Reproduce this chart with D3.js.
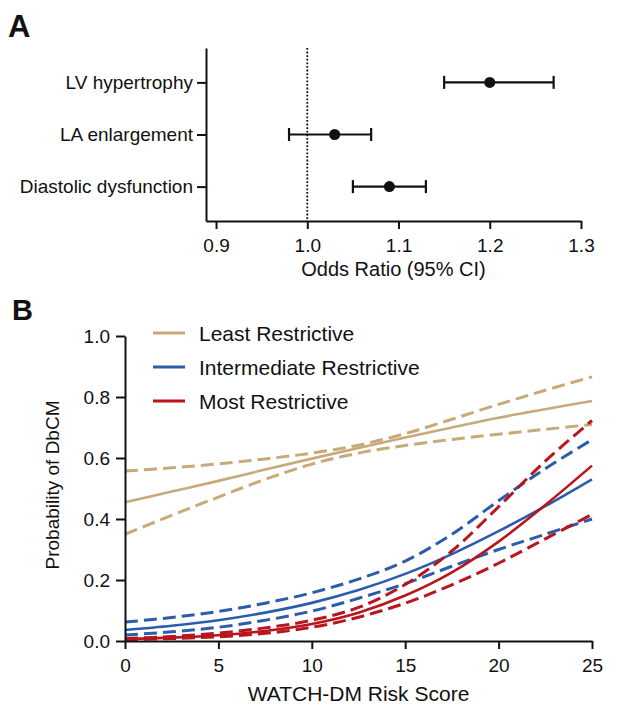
<!DOCTYPE html>
<html>
<head>
<meta charset="utf-8">
<script src="https://cdn.jsdelivr.net/npm/d3@7/dist/d3.min.js"></script>
<style>
  body { margin: 0; background: #fff; }
  svg { display: block; font-family: "Liberation Sans", Arial, Helvetica, sans-serif; }
</style>
</head>
<body>
<script>
// ---------- Panel A data ----------
const outcomes = ["LV hypertrophy", "LA enlargement", "Diastolic dysfunction"];
const oddsRatio = [1.20, 1.03, 1.09];
const ciLow = [1.15, 0.98, 1.05];
const ciHigh = [1.27, 1.07, 1.13];
const oddsTicks = [0.9, 1.0, 1.1, 1.2, 1.3];

// ---------- Panel B data ----------
const riskScore = [0, 2.5, 5, 7.5, 10, 12.5, 15, 17.5, 20, 22.5, 25];
const groups = ["Least Restrictive", "Intermediate Restrictive", "Most Restrictive"];
const leastFit   = [0.455, 0.490, 0.525, 0.562, 0.598, 0.633, 0.667, 0.700, 0.732, 0.760, 0.787];
const leastUpper = [0.557, 0.568, 0.581, 0.597, 0.616, 0.642, 0.680, 0.727, 0.776, 0.822, 0.866];
const leastLower = [0.350, 0.412, 0.472, 0.530, 0.580, 0.616, 0.641, 0.661, 0.678, 0.694, 0.710];
const interFit   = [0.036, 0.050, 0.068, 0.093, 0.125, 0.167, 0.220, 0.285, 0.360, 0.442, 0.530];
const interUpper = [0.062, 0.077, 0.097, 0.124, 0.158, 0.203, 0.262, 0.350, 0.460, 0.565, 0.660];
const interLower = [0.020, 0.030, 0.045, 0.068, 0.098, 0.140, 0.188, 0.245, 0.300, 0.350, 0.400];
const mostFit    = [0.006, 0.011, 0.019, 0.033, 0.056, 0.093, 0.149, 0.225, 0.326, 0.446, 0.575];
const mostUpper  = [0.008, 0.015, 0.026, 0.043, 0.068, 0.110, 0.185, 0.295, 0.440, 0.590, 0.723];
const mostLower  = [0.004, 0.008, 0.014, 0.025, 0.045, 0.078, 0.124, 0.184, 0.255, 0.335, 0.415];
const riskTicks = [0, 5, 10, 15, 20, 25];
const probTicks = [0, 0.2, 0.4, 0.6, 0.8, 1.0];

const colors = ["#c8aa7a", "#2c5dab", "#b8151e"];

const svg = d3.select("body").append("svg").attr("width", 629).attr("height", 709);

function styleAxis(g, fs) {
  g.select(".domain").attr("stroke", "#111").attr("stroke-width", 2);
  g.selectAll(".tick line").attr("stroke", "#111").attr("stroke-width", 2);
  g.selectAll(".tick text").attr("fill", "#111").style("font-size", fs + "px")
    .style("font-family", '"Liberation Sans", Arial, sans-serif');
}

// ================= Panel A =================
svg.append("text").attr("x", 8).attr("y", 37).text("A")
  .style("font-size", "31px").style("font-weight", "bold").attr("fill", "#111");

const xA = d3.scaleLinear().domain([0.889, 1.3]).range([206, 581]);
const yA = d3.scalePoint().domain(outcomes).range([48, 221]).padding(0.66);

// reference line at OR = 1
svg.append("line")
  .attr("x1", xA(1)).attr("x2", xA(1))
  .attr("y1", 48).attr("y2", 221)
  .attr("stroke", "#111").attr("stroke-width", 1.8).attr("stroke-dasharray", "1.8,1.8");

const gxA = svg.append("g").attr("transform", "translate(0,221)")
  .call(d3.axisBottom(xA).tickValues(oddsTicks).tickFormat(d3.format(".1f"))
    .tickSize(8).tickPadding(10).tickSizeOuter(0));
styleAxis(gxA, 19);

const gyA = svg.append("g").attr("transform", "translate(206,0)")
  .call(d3.axisLeft(yA).tickSize(9).tickPadding(4).tickSizeOuter(0));
styleAxis(gyA, 19);

const rows = outcomes.map((d, i) => ({ name: d, or: oddsRatio[i], lo: ciLow[i], hi: ciHigh[i] }));
const eb = svg.append("g").selectAll("g").data(rows).join("g");
eb.append("line").attr("x1", d => xA(d.lo)).attr("x2", d => xA(d.hi))
  .attr("y1", d => yA(d.name)).attr("y2", d => yA(d.name))
  .attr("stroke", "#111").attr("stroke-width", 2.2);
eb.append("line").attr("x1", d => xA(d.lo)).attr("x2", d => xA(d.lo))
  .attr("y1", d => yA(d.name) - 6.5).attr("y2", d => yA(d.name) + 6.5)
  .attr("stroke", "#111").attr("stroke-width", 2.2);
eb.append("line").attr("x1", d => xA(d.hi)).attr("x2", d => xA(d.hi))
  .attr("y1", d => yA(d.name) - 6.5).attr("y2", d => yA(d.name) + 6.5)
  .attr("stroke", "#111").attr("stroke-width", 2.2);
eb.append("circle").attr("cx", d => xA(d.or)).attr("cy", d => yA(d.name)).attr("r", 5.5)
  .attr("fill", "#111");

svg.append("text").attr("x", (206 + 581) / 2).attr("y", 276).attr("text-anchor", "middle")
  .text("Odds Ratio (95% CI)").style("font-size", "20px").attr("fill", "#111");

// ================= Panel B =================
svg.append("text").attr("x", 12).attr("y", 320).text("B")
  .style("font-size", "29px").style("font-weight", "bold").attr("fill", "#111");

const xB = d3.scaleLinear().domain([0, 25]).range([125, 592]);
const yB = d3.scaleLinear().domain([0, 1]).range([641, 336]);

const series = [
  { g: 0, vals: leastUpper, dash: true },
  { g: 0, vals: leastLower, dash: true },
  { g: 0, vals: leastFit, dash: false },
  { g: 1, vals: interUpper, dash: true },
  { g: 1, vals: interLower, dash: true },
  { g: 1, vals: interFit, dash: false },
  { g: 2, vals: mostUpper, dash: true },
  { g: 2, vals: mostLower, dash: true },
  { g: 2, vals: mostFit, dash: false }
];

const line = d3.line().x((d, i) => xB(riskScore[i])).y(d => yB(d)).curve(d3.curveCatmullRom.alpha(0.5));

svg.append("g").selectAll("path").data(series).join("path")
  .attr("d", d => line(d.vals))
  .attr("fill", "none")
  .attr("stroke", d => colors[d.g])
  .attr("stroke-width", d => d.dash ? 3 : 2.6)
  .attr("stroke-dasharray", d => d.dash ? "13,6" : null);

const gxB = svg.append("g").attr("transform", "translate(0,641)")
  .call(d3.axisBottom(xB).tickValues(riskTicks).tickSize(8).tickPadding(10).tickSizeOuter(0));
styleAxis(gxB, 19);

const gyB = svg.append("g").attr("transform", "translate(125,0)")
  .call(d3.axisLeft(yB).tickValues(probTicks).tickFormat(d3.format(".1f"))
    .tickSize(9).tickPadding(6).tickSizeOuter(0));
styleAxis(gyB, 19);

svg.append("text").attr("x", (125 + 592) / 2).attr("y", 701).attr("text-anchor", "middle")
  .text("WATCH-DM Risk Score").style("font-size", "21px").attr("fill", "#111");

svg.append("text").attr("transform", "translate(59,485) rotate(-90)").attr("text-anchor", "middle")
  .text("Probability of DbCM").style("font-size", "19px").attr("fill", "#111");

// legend
const legY = [333, 367, 401];
const leg = svg.append("g").selectAll("g").data(groups).join("g");
leg.append("line").attr("x1", 153).attr("x2", 185)
  .attr("y1", (d, i) => legY[i]).attr("y2", (d, i) => legY[i])
  .attr("stroke", (d, i) => colors[i]).attr("stroke-width", 3);
leg.append("text").attr("x", 199).attr("y", (d, i) => legY[i]).attr("dy", "0.36em")
  .text(d => d).style("font-size", "21px").attr("fill", "#111");
</script>
</body>
</html>
